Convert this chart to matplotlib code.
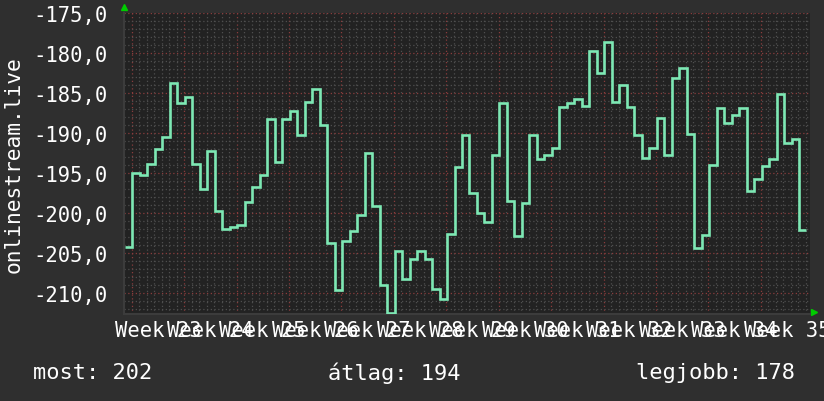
import matplotlib
matplotlib.use("Agg")
from matplotlib import pyplot as plt
import numpy as np

# daily rank values (plotted as negatives, like the rrd graph)
rank = [-204.2, -195.0, -195.2, -193.9, -192.0, -190.5, -183.7, -186.3, -185.5, -193.9,
        -197.0, -192.2, -199.8, -202.0, -201.7, -201.5, -198.6, -196.8, -195.2, -188.3,
        -193.6, -188.2, -187.25, -190.3, -186.1, -184.5, -189.0, -203.8, -209.6, -203.5,
        -202.3, -200.3, -192.5, -199.1, -209.0, -212.55, -204.7, -208.25, -205.8, -204.8,
        -205.8, -209.5, -210.8, -202.6, -194.2, -190.3, -197.5, -200.0, -201.1, -192.8,
        -186.25, -198.5, -202.9, -198.7, -190.3, -193.2, -192.8, -191.9, -186.7, -186.3,
        -185.75, -186.6, -179.8, -182.5, -178.6, -186.1, -184.0, -186.8, -190.25, -193.1,
        -191.9, -188.1, -192.8, -183.1, -181.9, -190.1, -204.4, -202.75, -194.0, -186.9,
        -188.75, -187.75, -186.9, -197.3, -195.75, -194.1, -193.25, -185.1, -191.25, -190.75,
        -202.1]
weeks = ["Week %d" % w for w in range(23, 36)]
yticks = [-175, -180, -185, -190, -195, -200, -205, -210]
seriesName = "onlinestream.live"
legendTexts = ["most: 202", "átlag: 194", "legjobb: 178"]

bg = "#2f2f2f"
plotBg = "#222222"
lineColor = "#7de8b4"
font = "DejaVu Sans Mono"
fs = 14.8

fig = plt.figure(figsize=(8.24, 4.02), dpi=100, facecolor=bg)
ax = fig.add_axes([124/824, 87/402, 686/824, 301/402], facecolor=plotBg)

edges = np.arange(len(rank) + 1)
ax.stairs(rank, edges, baseline=None, color=lineColor, linewidth=1.9, zorder=3)

ax.set_xlim(-0.133, 91.47)
ax.set_ylim(-212.625, -175)

# grid: days / weeks, 1 and 5 rank units
offset = 0.9
for i in range(92):
    d = offset + i
    ax.axvline(d, color="#8a3c3c" if i % 7 == 0 else "#4e4e4e", linestyle=(0, (1, 2)),
               linewidth=0.9, zorder=1)
for v in range(-212, -174):
    ax.axhline(v, color="#8a3c3c" if v % 5 == 0 else "#4e4e4e", linestyle=(0, (1, 2)),
               linewidth=0.9, zorder=1)

ax.set_yticks(yticks)
ax.set_yticklabels(["%d,0" % v for v in yticks])
labelPos = [offset + 3.5 + 7*i for i in range(len(weeks))]
ax.set_xticks(labelPos)
ax.set_xticklabels(weeks)
ax.tick_params(axis="both", length=0, colors="white", labelsize=fs)
ax.tick_params(axis="y", pad=11.5)
ax.tick_params(axis="x", pad=4)
for lab in ax.get_xticklabels() + ax.get_yticklabels():
    lab.set_family(font)
    lab.set_clip_on(False)

for s in ["top", "right"]:
    ax.spines[s].set_visible(False)
for s in ["left", "bottom"]:
    ax.spines[s].set_color("#3c3c3c")
    ax.spines[s].set_linewidth(1.5)

# axis arrows
ax.plot([0], [1.02], marker="^", color="#00cc00", markersize=4.5, transform=ax.transAxes, clip_on=False)
ax.plot([1.006], [0.008], marker=">", color="#00cc00", markersize=4.5, transform=ax.transAxes, clip_on=False)

fig.text(14/824, 1 - 165/402, seriesName, rotation=90, ha="center", va="center",
         color="white", family=font, fontsize=15.3)
xs = [33, 328, 636]
for x, t in zip(xs, legendTexts):
    fig.text(x/824, 1 - 373.5/402, t, ha="left", va="center", color="white",
             family=font, fontsize=15.8)

fig.savefig("out.png", dpi=100, facecolor=bg)
